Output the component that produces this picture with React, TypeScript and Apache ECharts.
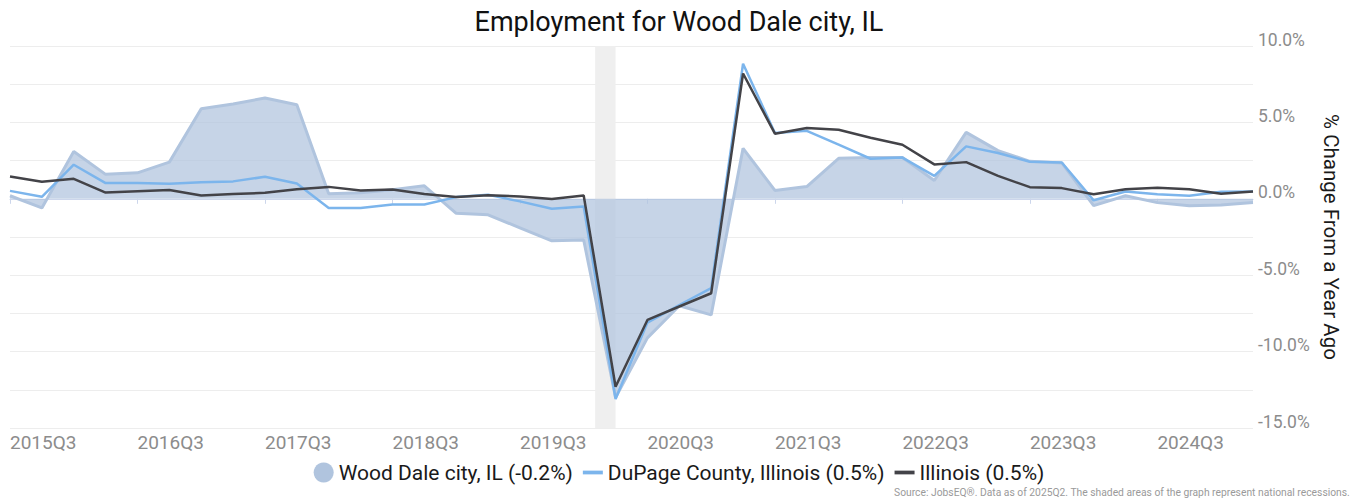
import React, { useEffect, useRef } from "react";
import * as echarts from "echarts";

const quarters = [
  "2015Q3", "2015Q4", "2016Q1", "2016Q2", "2016Q3", "2016Q4", "2017Q1", "2017Q2",
  "2017Q3", "2017Q4", "2018Q1", "2018Q2", "2018Q3", "2018Q4", "2019Q1", "2019Q2",
  "2019Q3", "2019Q4", "2020Q1", "2020Q2", "2020Q3", "2020Q4", "2021Q1", "2021Q2",
  "2021Q3", "2021Q4", "2022Q1", "2022Q2", "2022Q3", "2022Q4", "2023Q1", "2023Q2",
  "2023Q3", "2023Q4", "2024Q1", "2024Q2", "2024Q3", "2024Q4", "2025Q1", "2025Q2",
];

const woodDale = [
  0.2, -0.6, 3.1, 1.6, 1.7, 2.4, 5.9, 6.2,
  6.6, 6.15, 0.33, 0.4, 0.6, 0.85, -0.95, -1.05,
  -1.9, -2.75, -2.7, -13.0, -9.1, -7.0, -7.6, 3.3,
  0.55, 0.8, 2.65, 2.7, 2.7, 1.2, 4.35, 3.15,
  2.45, 2.35, -0.45, 0.2, -0.25, -0.45, -0.4, -0.25,
];

const duPage = [
  0.52, 0.13, 2.23, 1.03, 1.03, 0.98, 1.09, 1.14,
  1.44, 1.0, -0.6, -0.6, -0.37, -0.37, 0.11, 0.26,
  -0.17, -0.65, -0.5, -13.1, -8.1, -6.95, -5.85, 8.84,
  4.3, 4.45, 3.54, 2.62, 2.7, 1.5, 3.43, 3.0,
  2.42, 2.38, -0.1, 0.48, 0.3, 0.2, 0.46, 0.48,
];

const illinois = [
  1.46, 1.11, 1.31, 0.41, 0.5, 0.57, 0.22, 0.31,
  0.39, 0.63, 0.78, 0.55, 0.61, 0.31, 0.11, 0.24,
  0.15, -0.02, 0.22, -12.3, -7.93, -7.05, -6.18, 8.2,
  4.26, 4.63, 4.52, 4.0, 3.54, 2.25, 2.4, 1.5,
  0.76, 0.7, 0.3, 0.63, 0.72, 0.63, 0.33, 0.48,
];

const seriesNames = [
  "Wood Dale city, IL (-0.2%)",
  "DuPage County, Illinois (0.5%)",
  "Illinois (0.5%)",
];

// recession span in quarter-index units (Feb 2020 to Apr 2020)
const recessionStart = [18.36];
const recessionEnd = [19.0];

const yTickLabels = [-15, -10, -5, 0, 5, 10];

const titleText = "Employment for Wood Dale city, IL";
const sourceText =
  "Source: JobsEQ®. Data as of 2025Q2. The shaded areas of the graph represent national recessions.";
const yAxisName = "% Change From a Year Ago";

const FONT = "Roboto, 'Noto Sans', sans-serif";
const LINE_ICON = "path://M0,0H16V3H0Z";

const toPairs = (arr: number[]) => arr.map((v, i) => [i, v]);

export default function App() {
  const ref = useRef<HTMLDivElement>(null);

  useEffect(() => {
    if (!ref.current) return;
    const chart = echarts.init(ref.current, undefined, { renderer: "svg" });
    const labelIdx = quarters
      .map((q, i) => (q.endsWith("Q3") ? i : -1))
      .filter((i) => i >= 0);

    chart.setOption({
      animation: false,
      textStyle: { fontFamily: FONT },
      title: {
        text: titleText,
        left: "center",
        top: 3,
        textStyle: { fontSize: 27, fontWeight: "normal", color: "#111", fontFamily: FONT },
      },
      grid: { left: 10, right: 105, top: 46, bottom: 72, containLabel: false },
      legend: {
        top: 457,
        left: "center",
        itemWidth: 20,
        itemHeight: 20,
        itemGap: 10,
        symbolKeepAspect: true,
        textStyle: { fontSize: 21, color: "#1a1a1a", fontFamily: FONT },
        data: [
          { name: seriesNames[0], icon: "circle" },
          { name: seriesNames[1], icon: LINE_ICON },
          { name: seriesNames[2], icon: LINE_ICON },
        ],
      },
      xAxis: {
        type: "value",
        min: 0,
        max: quarters.length - 1,
        interval: 4,
        axisLine: { show: true, lineStyle: { color: "#ccd6eb", width: 1 } },
        axisTick: {
          show: true,
          length: 5,
          lineStyle: { color: "#ccd6eb" },
          customValues: labelIdx,
        },
        axisLabel: {
          customValues: labelIdx,
          formatter: (v: number) => quarters[Math.round(v)] ?? "",
          align: "left",
          margin: 5,
          fontSize: 19,
          color: "#8c8c8c",
          fontFamily: FONT,
        },
        splitLine: { show: false },
      },
      yAxis: {
        type: "value",
        position: "right",
        min: -15,
        max: 10,
        interval: 2.5,
        axisLine: { show: false },
        axisTick: { show: false },
        splitLine: { show: true, lineStyle: { color: "#ededed", width: 1 } },
        axisLabel: {
          customValues: yTickLabels,
          formatter: (v: number) => `${v.toFixed(1)}%`,
          align: "left",
          verticalAlign: "bottom",
          lineHeight: 13,
          margin: 5,
          fontSize: 17.5,
          color: "#8c8c8c",
          fontFamily: FONT,
        },
        name: yAxisName,
        nameLocation: "middle",
        nameRotate: -90,
        nameGap: 61,
        nameTextStyle: { fontSize: 20.5, color: "#1a1a1a", fontFamily: FONT },
      },
      graphic: [
        {
          type: "text",
          right: 8,
          bottom: 3,
          style: { text: sourceText, fontSize: 10.3, fill: "#9a9a9a", fontFamily: FONT },
        },
      ],
      series: [
        {
          type: "line",
          name: "recessions",
          data: [],
          z: 0,
          silent: true,
          markArea: {
            silent: true,
            itemStyle: { color: "#efefef" },
            data: recessionStart.map((s, i) => [{ xAxis: s }, { xAxis: recessionEnd[i] }]),
          },
        },
        {
          type: "line",
          name: seriesNames[0],
          data: toPairs(woodDale),
          symbol: "none",
          z: 2,
          itemStyle: { color: "#b0c4de" },
          lineStyle: { color: "#b0c4de", width: 3 },
          areaStyle: { color: "#b0c4de", opacity: 0.72, origin: 0 },
        },
        {
          type: "line",
          name: seriesNames[1],
          data: toPairs(duPage),
          symbol: "none",
          z: 3,
          itemStyle: { color: "#7cb5ec" },
          lineStyle: { color: "#7cb5ec", width: 2.5 },
        },
        {
          type: "line",
          name: seriesNames[2],
          data: toPairs(illinois),
          symbol: "none",
          z: 4,
          itemStyle: { color: "#434348" },
          lineStyle: { color: "#434348", width: 2.5 },
        },
      ],
    });
    return () => chart.dispose();
  }, []);

  return (
    <div
      ref={ref}
      style={{ position: "fixed", left: 0, top: 0, width: 1358, height: 500, background: "#fff" }}
    />
  );
}
